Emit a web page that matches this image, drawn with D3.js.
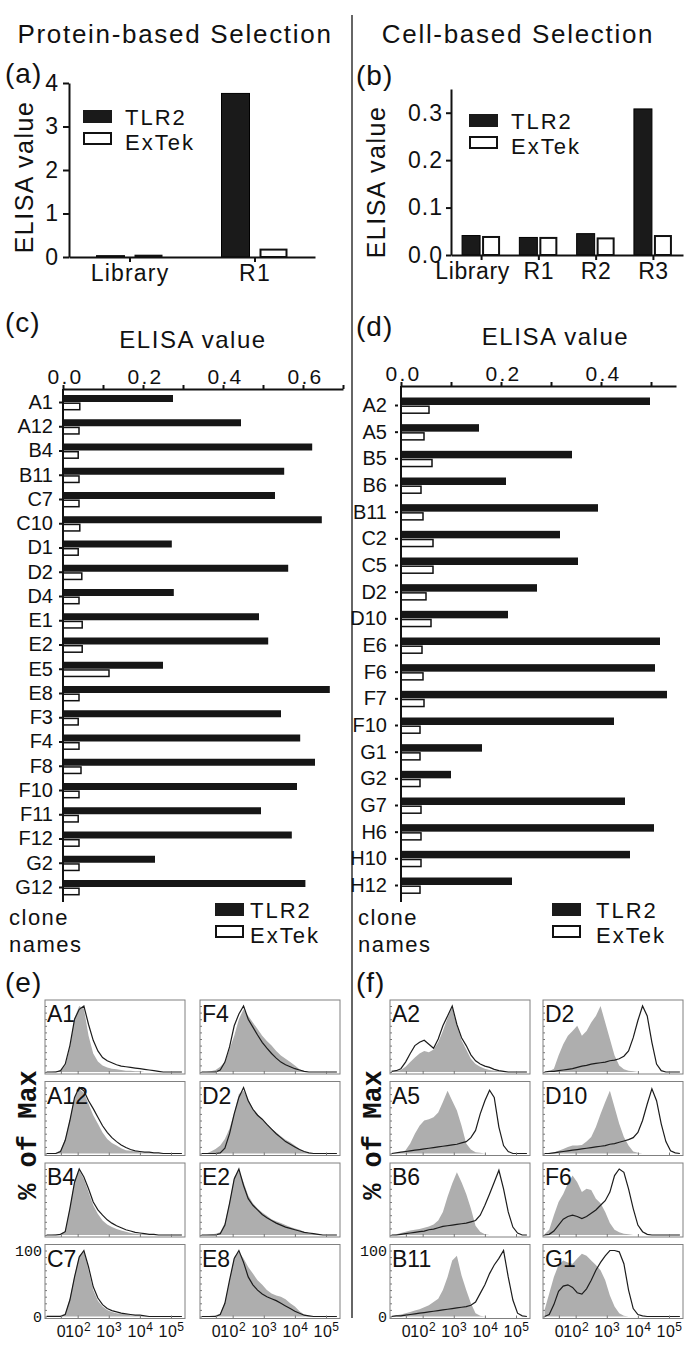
<!DOCTYPE html>
<html>
<head>
<meta charset="utf-8">
<script src="https://cdn.jsdelivr.net/npm/d3@7"></script>
<style>
body { margin: 0; background: #fff; }
svg { display: block; font-family: "Liberation Sans", Arial, sans-serif; }
</style>
</head>
<body>
<div id="fig"></div>
<script>
// (a) protein-based rounds
const roundsA = ["Library", "R1"];
const tlr2A = [0.03, 3.76];
const extekA = [0.03, 0.17];
const ticksA = [0, 1, 2, 3, 4];

// (b) cell-based rounds
const roundsB = ["Library", "R1", "R2", "R3"];
const tlr2B = [0.041, 0.037, 0.045, 0.308];
const extekB = [0.038, 0.036, 0.035, 0.040];
const ticksB = [0, 0.1, 0.2, 0.3];

// (c) clones, protein-based
const clonesC = ["A1","A12","B4","B11","C7","C10","D1","D2","D4","E1","E2","E5","E8","F3","F4","F8","F10","F11","F12","G2","G12"];
const tlr2C = [0.275,0.445,0.623,0.553,0.530,0.647,0.272,0.563,0.277,0.490,0.513,0.250,0.667,0.545,0.593,0.630,0.585,0.495,0.572,0.230,0.606];
const extekC = [0.042,0.040,0.038,0.040,0.040,0.042,0.038,0.047,0.040,0.048,0.048,0.115,0.040,0.038,0.040,0.045,0.040,0.038,0.040,0.040,0.040];
const ticksC = [0, 0.1, 0.2, 0.3, 0.4, 0.5, 0.6, 0.7];

// (d) clones, cell-based
const clonesD = ["A2","A5","B5","B6","B11","C2","C5","D2","D10","E6","F6","F7","F10","G1","G2","G7","H6","H10","H12"];
const tlr2D = [0.498,0.156,0.342,0.210,0.394,0.318,0.354,0.272,0.214,0.518,0.508,0.532,0.426,0.162,0.100,0.448,0.506,0.458,0.222];
const extekD = [0.056,0.046,0.062,0.040,0.044,0.064,0.064,0.050,0.060,0.042,0.044,0.046,0.038,0.038,0.038,0.040,0.040,0.040,0.038];
const ticksD = [0, 0.1, 0.2, 0.3, 0.4, 0.5];

// flow histograms: channel (log decades) and % of max
const fluorX = [1.00,1.15,1.30,1.45,1.60,1.75,1.90,2.05,2.20,2.35,2.50,2.65,2.80,2.95,3.10,3.25,3.40,3.55,3.70,3.85,4.00,4.15,4.30,4.45,4.60,4.75,4.90,5.05,5.20,5.35];
const fluorTicks = [1.46, 2, 3, 4, 5];
const fluorBase = ["0", "10", "10", "10", "10"];
const fluorExp = ["", "2", "3", "4", "5"];

const histNamesE = ["A1","A12","B4","C7","F4","D2","E2","E8"];
const histFillE = [
  [0,0,1,2,10,38,82,100,96,55,28,16,10,7,5,4,3,2,2,1,1,0,0,0,0,0,0,0,0,0],
  [0,0,1,5,22,52,85,98,92,75,58,45,32,22,16,12,8,5,4,3,2,1,1,0,0,0,0,0,0,0],
  [0,0,1,2,6,42,82,98,85,65,45,32,22,16,12,9,7,5,3,2,1,1,0,0,0,0,0,0,0,0],
  [2,2,2,2,4,28,62,92,100,70,40,24,15,10,7,5,4,3,2,1,1,0,0,0,0,0,0,0,0,0],
  [0,0,1,3,8,15,35,55,80,95,85,75,65,55,47,40,32,25,20,15,10,4,1,0,0,0,0,0,0,0],
  [0,0,3,7,12,22,38,62,90,95,82,68,60,52,45,38,32,26,21,17,12,7,3,1,0,0,0,0,0,0],
  [0,0,1,2,4,18,50,88,98,80,60,48,40,34,29,24,21,18,15,12,10,8,5,3,2,1,0,0,0,0],
  [0,0,1,2,4,22,55,90,98,88,75,65,55,48,40,35,32,30,26,20,15,8,3,1,0,0,0,0,0,0]
];
const histLineE = [
  [0,0,0,2,12,40,80,95,100,72,48,32,22,17,14,11,9,8,7,6,5,4,3,2,1,0,0,0,0,0],
  [0,0,0,3,20,50,85,100,95,80,68,55,42,32,24,18,13,9,6,4,3,2,2,1,1,0,0,0,0,0],
  [0,0,0,1,5,40,80,100,88,70,50,38,30,23,18,14,11,8,6,4,3,2,1,1,0,0,0,0,0,0],
  [0,0,0,0,3,25,60,90,100,75,45,28,18,12,9,7,5,4,3,2,2,1,0,0,0,0,0,0,0,0],
  [0,0,0,0,3,15,38,70,88,100,80,68,56,45,36,28,21,15,11,8,5,3,1,0,0,0,0,0,0,0],
  [0,0,0,0,1,8,30,60,85,100,80,67,58,52,44,37,30,24,18,14,10,6,3,1,0,0,0,0,0,0],
  [0,0,0,0,2,15,48,85,100,75,55,45,38,31,26,22,18,15,12,10,8,6,4,3,2,1,0,0,0,0],
  [0,0,0,0,3,20,55,88,100,82,60,48,40,34,30,27,24,20,16,12,8,5,2,1,0,0,0,0,0,0]
];

const histNamesF = ["A2","A5","B6","B11","D2","D10","F6","G1"];
const histFillF = [
  [0,1,3,8,15,22,28,32,30,34,45,62,82,98,70,48,34,20,12,8,5,3,2,1,0,0,0,0,0,0],
  [0,0,1,5,15,30,42,50,52,55,62,78,95,80,65,42,15,6,2,1,0,0,0,0,0,0,0,0,0,0],
  [0,1,3,5,7,8,9,11,13,16,22,35,58,78,95,80,62,40,14,5,1,0,0,0,0,0,0,0,0,0],
  [1,2,3,5,7,9,11,14,17,22,27,40,60,85,92,62,40,20,5,1,0,0,0,0,0,0,0,0,0,0],
  [0,1,5,25,42,55,62,70,55,62,75,85,100,75,50,25,10,4,2,1,0,0,0,0,0,0,0,0,0,0],
  [0,1,2,4,7,10,12,12,13,18,25,40,60,78,95,70,45,25,12,3,1,0,0,0,0,0,0,0,0,0],
  [1,8,30,50,62,78,90,80,65,70,68,55,48,35,18,8,4,2,1,0,0,0,0,0,0,0,0,0,0,0],
  [10,35,60,78,85,82,80,88,95,92,85,78,70,55,32,15,5,1,0,0,0,0,0,0,0,0,0,0,0,0]
];
const histLineF = [
  [1,2,5,15,28,40,45,48,42,36,50,70,85,100,72,52,40,26,17,12,9,7,4,2,1,0,0,0,0,0],
  [0,1,2,3,4,5,6,7,8,9,10,11,12,13,14,16,18,24,35,60,80,96,85,40,12,3,0,0,0,0],
  [0,0,1,2,3,4,5,6,8,9,11,13,14,15,16,17,18,20,22,30,45,62,80,98,70,35,12,3,0,0],
  [0,1,1,2,3,4,5,6,7,8,9,10,11,12,13,14,15,17,22,35,48,65,78,88,100,60,25,5,1,0],
  [0,1,1,2,3,4,5,7,9,10,12,13,14,15,17,18,20,24,32,52,78,100,85,45,12,2,0,0,0,0],
  [0,0,1,2,3,4,5,6,7,8,9,10,11,12,14,15,17,19,21,24,32,50,75,98,80,45,18,4,1,0],
  [0,1,6,15,24,28,30,28,25,28,33,38,45,52,65,90,100,95,70,40,15,5,1,0,0,0,0,0,0,0],
  [0,3,18,38,46,48,44,36,34,42,55,70,82,92,100,100,98,80,40,12,3,1,0,0,0,0,0,0,0,0]
];

const ink = '#111';

const svg = d3.select('#fig').append('svg')
    .attr('width', 698)
    .attr('height', 1350);

function label(x, y, str, size, ls = 0, anchor = 'start') {
    return svg.append('text')
        .attr('x', x)
        .attr('y', y)
        .attr('font-size', size)
        .attr('letter-spacing', ls)
        .attr('text-anchor', anchor)
        .attr('fill', ink)
        .text(str);
}

function styleAxis(g, size, ls, width) {
    g.attr('font-family', null).attr('font-size', size);
    g.selectAll('text').attr('fill', ink).attr('letter-spacing', ls);
    g.selectAll('line, path').attr('stroke', ink).attr('stroke-width', width);
}

function legend(x, y, tx) {
    svg.append('rect').attr('x', x).attr('y', y).attr('width', 29).attr('height', 13).attr('fill', '#1a1a1a');
    svg.append('rect').attr('x', x + 1).attr('y', y + 23).attr('width', 27).attr('height', 11)
        .attr('fill', '#fff').attr('stroke', ink).attr('stroke-width', 2);
    label(tx, y + 15, 'TLR2', 22, 2);
    label(tx, y + 40, 'ExTek', 22, 2);
}

// Top titles and divider
label(175, 43, 'Protein-based Selection', 26, 1.7, 'middle');
label(518, 43, 'Cell-based Selection', 26, 1.7, 'middle');
svg.append('line').attr('x1', 352).attr('x2', 352).attr('y1', 15).attr('y2', 1318)
    .attr('stroke', '#333').attr('stroke-width', 1.5);

label(5, 83, '(a)', 28, 1);
label(356, 85, '(b)', 28, 1);
label(5, 332, '(c)', 28, 1);
label(356, 336, '(d)', 28, 1);
label(5, 992, '(e)', 28, 1);
label(356, 992, '(f)', 28, 1);

function roundChart(cfg, rounds, tlr, ext, ticks) {

    const y = d3.scaleLinear().domain(cfg.yDom).range([cfg.y0, cfg.y1]);
    const x = d3.scalePoint().domain(rounds).range([cfg.x0, cfg.x1]).padding(cfg.pad);

    const g = svg.append('g');

    // Bars
    g.append('g').selectAll('rect')
        .data(tlr)
        .join('rect')
        .attr('x', (d, i) => x(rounds[i]) + cfg.tOff)
        .attr('width', cfg.bw)
        .attr('y', d => y(d))
        .attr('height', d => y(0) - y(d))
        .attr('fill', '#1a1a1a')
        .attr('stroke', '#000')
        .attr('stroke-width', 1);

    g.append('g').selectAll('rect')
        .data(ext)
        .join('rect')
        .attr('x', (d, i) => x(rounds[i]) + cfg.eOff + 1)
        .attr('width', cfg.bw - 2)
        .attr('y', d => y(d))
        .attr('height', d => y(0) - y(d))
        .attr('fill', '#fff')
        .attr('stroke', ink)
        .attr('stroke-width', 2);

    // Create y axis
    const ya = g.append('g')
        .attr('transform', `translate(${cfg.x0},0)`)
        .call(d3.axisLeft(y).tickValues(ticks).tickFormat(cfg.fmt)
            .tickSize(cfg.tick).tickPadding(cfg.tickPad).tickSizeOuter(0));
    styleAxis(ya, 23, 1, 2);

    // Create x axis
    const xa = g.append('g')
        .attr('transform', `translate(0,${cfg.y0})`)
        .call(d3.axisBottom(x).tickSize(5).tickPadding(3).tickSizeOuter(0));
    styleAxis(xa, 23, cfg.xls, 2);
    xa.select('.tick text').attr('dx', cfg.firstShift);

    svg.append('text')
        .attr('transform', `translate(${cfg.ylx},${cfg.yly}) rotate(-90)`)
        .attr('text-anchor', 'middle')
        .attr('font-size', 25)
        .attr('letter-spacing', 1.5)
        .attr('fill', ink)
        .text('ELISA value');
}

roundChart({x0: 69, x1: 315, y0: 257, y1: 83, yDom: [0, 4], pad: 0.484, bw: 28, xls: 1.2, firstShift: 0,
            tOff: -33, eOff: 5, tick: 6, tickPad: 4, fmt: d3.format('d'), ylx: 33, yly: 177},
           roundsA, tlr2A, extekA, ticksA);
legend(83, 110, 125);

roundChart({x0: 451, x1: 683, y0: 255, y1: 89, yDom: [0, 0.35], pad: 0.525, bw: 18, xls: 0.6, firstShift: -9,
            tOff: -19, eOff: 1, tick: 5, tickPad: 3, fmt: d3.format('.1f'), ylx: 385, yly: 182},
           roundsB, tlr2B, extekB, ticksB);
legend(469, 114, 511);

function cloneChart(cfg, clones, tlr, ext, ticks) {

    const x = d3.scaleLinear().domain(cfg.xDom).range([cfg.x0, cfg.x1]);
    const y = d3.scalePoint().domain(clones).range(cfg.yRange);

    const g = svg.append('g');

    g.append('g').selectAll('rect')
        .data(tlr)
        .join('rect')
        .attr('x', x(0))
        .attr('width', d => x(d) - x(0))
        .attr('y', (d, i) => y(clones[i]) - cfg.th)
        .attr('height', cfg.th)
        .attr('fill', '#161616');

    g.append('g').selectAll('rect')
        .data(ext)
        .join('rect')
        .attr('x', x(0))
        .attr('width', d => x(d) - x(0))
        .attr('y', (d, i) => y(clones[i]) + 1.2)
        .attr('height', cfg.eh)
        .attr('fill', '#fff')
        .attr('stroke', ink)
        .attr('stroke-width', 1.5);

    // Top value axis, labels on every other tick
    const xa = g.append('g')
        .attr('transform', `translate(0,${cfg.axisY})`)
        .call(d3.axisTop(x).tickValues(ticks)
            .tickFormat(d => Math.round(d * 10) % 2 ? '' : d.toFixed(1))
            .tickSize(4).tickPadding(1).tickSizeOuter(0));
    styleAxis(xa, 21, 2.2, 2);
    xa.selectAll('.tick text').attr('dx', 2);

    // Clone axis
    const ya = g.append('g')
        .attr('transform', `translate(${cfg.x0},0)`)
        .call(d3.axisLeft(y).tickSize(4).tickPadding(cfg.labPad));
    styleAxis(ya, 20, 0, 2);
    ya.select('.domain').remove();
    if (cfg.gap) ya.selectAll('.tick line').attr('x1', -3).attr('x2', -6);

    g.append('line')
        .attr('x1', cfg.x0).attr('x2', cfg.x0)
        .attr('y1', cfg.axisY).attr('y2', cfg.yEnd)
        .attr('stroke', ink).attr('stroke-width', 2);

    label((cfg.x0 + cfg.x1) / 2 - cfg.titleShift, cfg.axisY - 41, 'ELISA value', 24, 1.5, 'middle');
    label(cfg.cx, 925, 'clone', 22, 1.5);
    label(cfg.cx, 952, 'names', 22, 1.5);
}

cloneChart({x0: 63, x1: 343, xDom: [0, 0.7], axisY: 389, yEnd: 902, yRange: [402, 887],
            th: 7, eh: 6.5, labPad: 6, gap: false, titleShift: 10, cx: 9},
           clonesC, tlr2C, extekC, ticksC);
legend(215, 903, 250);

cloneChart({x0: 401, x1: 676, xDom: [0, 0.55], axisY: 386, yEnd: 902, yRange: [405, 885],
            th: 7.5, eh: 7, labPad: 10, gap: true, titleShift: -17, cx: 358},
           clonesD, tlr2D, extekD, ticksD);
legend(552, 903, 596);

// Flow cytometry histograms
const boxW = 140, boxH = 74;
const rowTops = [1000, 1081.5, 1163, 1244.5];

function histPanel(left, top, name, fill, outline, bottomRow, firstCol) {

    const x = d3.scaleLinear().domain([0.95, 5.45]).range([left, left + boxW]);
    const y = d3.scaleLinear().domain([0, 100]).range([top + boxH - 2, top + 6]);

    const g = svg.append('g');

    const area = d3.area()
        .x((d, i) => x(fluorX[i]))
        .y0(y(0))
        .y1(d => y(d));

    const line = d3.line()
        .x((d, i) => x(fluorX[i]))
        .y(d => y(d));

    g.append('path').datum(fill)
        .attr('d', area)
        .attr('fill', '#aeaeae');

    g.append('path').datum(outline)
        .attr('d', line)
        .attr('fill', 'none')
        .attr('stroke', '#1c1c1c')
        .attr('stroke-width', 1.2);

    // small inner ticks
    const lt = g.append('g')
        .attr('transform', `translate(${left},0)`)
        .call(d3.axisRight(y).ticks(10).tickSize(2).tickFormat(''));
    lt.select('.domain').remove();
    lt.selectAll('line').attr('stroke', '#777');

    const bt = g.append('g')
        .attr('transform', `translate(0,${top + boxH})`)
        .call(d3.axisTop(x).tickValues(fluorTicks).tickSize(3).tickFormat(''));
    bt.select('.domain').remove();
    bt.selectAll('line').attr('stroke', '#777');

    g.append('rect')
        .attr('x', left).attr('y', top)
        .attr('width', boxW).attr('height', boxH)
        .attr('fill', 'none')
        .attr('stroke', '#808080')
        .attr('stroke-width', 1);

    g.append('text')
        .attr('x', left + 2).attr('y', top + 22)
        .attr('font-size', 23)
        .attr('fill', ink)
        .text(name);

    if (bottomRow) {
        const xa = g.append('g')
            .attr('transform', `translate(0,${top + boxH})`)
            .call(d3.axisBottom(x).tickValues(fluorTicks).tickSize(0).tickPadding(7));
        xa.select('.domain').remove();
        xa.attr('font-family', null).attr('font-size', 16);
        xa.selectAll('.tick text').each(function (d, i) {
            const t = d3.select(this).text('').attr('fill', ink).attr('letter-spacing', 0.5);
            t.append('tspan').text(fluorBase[i]);
            if (fluorExp[i]) t.append('tspan').attr('dy', -6).attr('font-size', 12).text(fluorExp[i]);
        });

        if (firstCol) {
            g.append('text').attr('x', left - 3).attr('y', y(100) + 5)
                .attr('text-anchor', 'end').attr('font-family', '"Liberation Mono", monospace')
                .attr('font-size', 15).attr('fill', ink).text('100');
            g.append('text').attr('x', left - 3).attr('y', y(0) + 5)
                .attr('text-anchor', 'end').attr('font-family', '"Liberation Mono", monospace')
                .attr('font-size', 15).attr('fill', ink).text('0');
        }
    }
}

function histGrid(lefts, names, fills, lines, ylx) {
    names.forEach((n, i) => {
        const col = Math.floor(i / 4), row = i % 4;
        histPanel(lefts[col], rowTops[row], n, fills[i], lines[i], row === 3, col === 0);
    });

    svg.append('text')
        .attr('transform', `translate(${ylx},1135) rotate(-90)`)
        .attr('text-anchor', 'middle')
        .attr('font-family', '"Liberation Mono", "Courier New", monospace')
        .attr('font-weight', 'bold')
        .attr('font-size', 27)
        .attr('fill', ink)
        .text('% of Max');
}

histGrid([45, 200], histNamesE, histFillE, histLineE, 36);
histGrid([390, 543], histNamesF, histFillF, histLineF, 381);
</script>
</body>
</html>
